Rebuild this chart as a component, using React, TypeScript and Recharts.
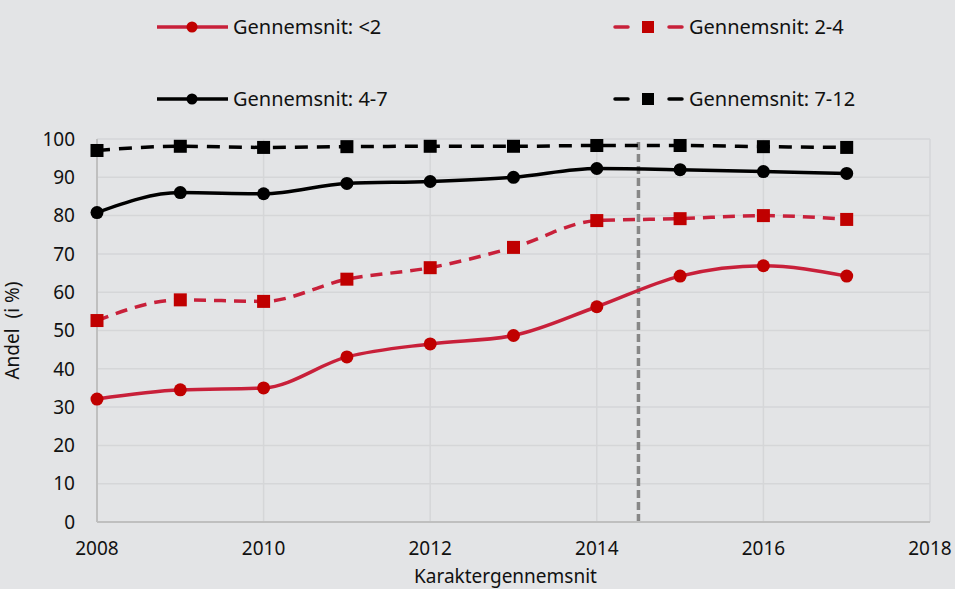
import { LineChart, Line, XAxis, YAxis, CartesianGrid, ReferenceLine } from "recharts";

const years = [2008, 2009, 2010, 2011, 2012, 2013, 2014, 2015, 2016, 2017];
const under2 = [32.1, 34.5, 35.0, 43.1, 46.5, 48.7, 56.2, 64.2, 66.9, 64.2];
const from2to4 = [52.6, 58.0, 57.6, 63.4, 66.4, 71.7, 78.7, 79.2, 80.0, 79.0];
const from4to7 = [80.8, 86.0, 85.7, 88.4, 88.9, 90.0, 92.3, 92.0, 91.5, 91.0];
const from7to12 = [97.0, 98.1, 97.8, 98.0, 98.1, 98.1, 98.3, 98.3, 98.0, 97.8];
const xTicks = [2008, 2010, 2012, 2014, 2016, 2018];
const yTicks = [0, 10, 20, 30, 40, 50, 60, 70, 80, 90, 100];
const cutoffYear = 2014.5;

const data = years.map((year, i) => ({
  year,
  under2: under2[i],
  from2to4: from2to4[i],
  from4to7: from4to7[i],
  from7to12: from7to12[i],
}));

const FONT = "'Noto Sans', 'Open Sans', sans-serif";
const RED_LINE = "#C8203A";
const RED_MARK = "#C00000";
const BLACK = "#000000";
const BG = "#E3E4E6";

const legendItems = [
  { label: "Gennemsnit: <2", color: RED_LINE, mark: RED_MARK, dashed: false, square: false },
  { label: "Gennemsnit: 2-4", color: RED_LINE, mark: RED_MARK, dashed: true, square: true },
  { label: "Gennemsnit: 4-7", color: BLACK, mark: BLACK, dashed: false, square: false },
  { label: "Gennemsnit: 7-12", color: BLACK, mark: BLACK, dashed: true, square: true },
];

function SquareDot(props: any) {
  const { cx, cy, fill } = props;
  if (cx == null || cy == null) return null;
  return <rect x={cx - 6.5} y={cy - 6.5} width={13} height={13} fill={fill} />;
}

// legend is drawn as an overlay so it does not take space from the plot
function LegendBox() {
  const cols = [157, 613];
  const rows = [27, 99];
  return (
    <div style={{ position: "absolute", left: 0, top: 0, width: 955, height: 130 }}>
      {legendItems.map((item, i) => {
        const left = cols[i % 2];
        const top = rows[Math.floor(i / 2)];
        return (
          <div key={item.label} style={{ position: "absolute", left, top: top - 14, height: 28, display: "flex", alignItems: "center" }}>
            <svg width={71} height={16} style={{ marginRight: 5 }}>
              {item.dashed ? (
                <>
                  <line x1={2} y1={8} x2={15} y2={8} stroke={item.color} strokeWidth={3.5} strokeLinecap="round" />
                  <line x1={56} y1={8} x2={69} y2={8} stroke={item.color} strokeWidth={3.5} strokeLinecap="round" />
                </>
              ) : (
                <line x1={0} y1={8} x2={71} y2={8} stroke={item.color} strokeWidth={3.5} />
              )}
              {item.square ? (
                <rect x={29} y={2} width={12} height={12} fill={item.mark} />
              ) : (
                <circle cx={35} cy={8} r={5.5} fill={item.mark} />
              )}
            </svg>
            <span style={{ fontFamily: FONT, fontSize: 20, color: "#111", lineHeight: "28px" }}>{item.label}</span>
          </div>
        );
      })}
    </div>
  );
}

export default function App() {
  return (
    <div style={{ position: "absolute", left: 0, top: 0, width: 955, height: 589, background: BG, overflow: "hidden" }}>
      <LineChart width={955} height={589} data={data} margin={{ top: 139, right: 25, left: 0, bottom: 0 }}>
        <CartesianGrid stroke="#D5D6D8" strokeWidth={1.5} />
        <XAxis
          dataKey="year"
          type="number"
          domain={[2008, 2018]}
          ticks={xTicks}
          interval={0}
          height={67}
          tickLine={false}
          tickSize={0}
          tickMargin={20}
          axisLine={{ stroke: "#BFBFBF", strokeWidth: 2 }}
          tick={{ fill: "#111", fontSize: 19, fontFamily: FONT }}
          label={{
            value: "Karaktergennemsnit",
            position: "insideBottom",
            offset: 6,
            dx: -8,
            fill: "#111",
            fontSize: 19,
            fontFamily: FONT,
          }}
        />
        <YAxis
          type="number"
          domain={[0, 100]}
          ticks={yTicks}
          interval={0}
          width={97}
          tickLine={false}
          tickSize={0}
          tickMargin={22}
          axisLine={{ stroke: "#BFBFBF", strokeWidth: 2 }}
          tick={{ fill: "#111", fontSize: 19, fontFamily: FONT }}
          label={{
            value: "Andel\u00A0\u00A0(i\u00A0%)",
            angle: -90,
            position: "insideLeft",
            offset: 12,
            style: { textAnchor: "middle" },
            fill: "#111",
            fontSize: 19,
            fontFamily: FONT,
          }}
        />
        <ReferenceLine x={cutoffYear} stroke="#878787" strokeWidth={3.5} strokeDasharray="8 4" />
        <Line
          dataKey="from7to12"
          type="monotone"
          stroke={BLACK}
          strokeWidth={3.5}
          strokeDasharray="13 9"
          dot={<SquareDot fill={BLACK} />}
          isAnimationActive={false}
        />
        <Line
          dataKey="from4to7"
          type="monotone"
          stroke={BLACK}
          strokeWidth={3.5}
          dot={{ r: 6.5, fill: BLACK, stroke: BLACK, strokeWidth: 0 }}
          isAnimationActive={false}
        />
        <Line
          dataKey="from2to4"
          type="monotone"
          stroke={RED_LINE}
          strokeWidth={3.5}
          strokeDasharray="12 8"
          dot={<SquareDot fill={RED_MARK} />}
          isAnimationActive={false}
        />
        <Line
          dataKey="under2"
          type="monotone"
          stroke={RED_LINE}
          strokeWidth={3.5}
          dot={{ r: 6.5, fill: RED_MARK, stroke: RED_MARK, strokeWidth: 0 }}
          isAnimationActive={false}
        />
      </LineChart>
      <LegendBox />
    </div>
  );
}
